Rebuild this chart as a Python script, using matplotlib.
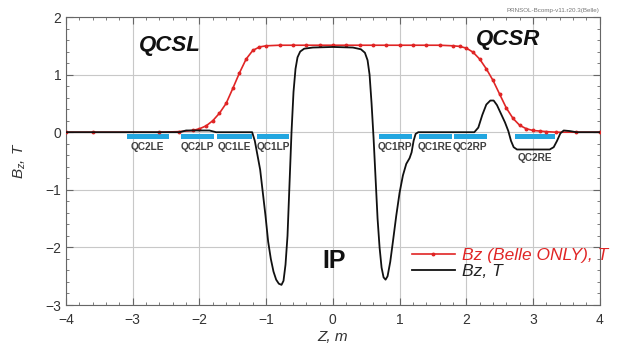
import matplotlib
matplotlib.use("Agg")
import matplotlib.pyplot as plt
from matplotlib.lines import Line2D
from matplotlib.ticker import MultipleLocator

plt.rcParams["font.family"] = ["Liberation Sans", "DejaVu Sans"]
plt.rcParams["mathtext.fontset"] = "custom"
plt.rcParams["mathtext.rm"] = "Liberation Sans"
plt.rcParams["mathtext.it"] = "Liberation Sans:italic"

# Bz, T (total field)
z_total = [-4.0, -2.3, -2.2, -1.85, -1.75, -1.21, -1.17, -1.13, -1.09, -1.05,
           -1.01, -0.97, -0.93, -0.89, -0.85, -0.81, -0.77, -0.74, -0.71, -0.68,
           -0.65, -0.62, -0.59, -0.56, -0.53, -0.49, -0.43, -0.3, 0.0, 0.3,
           0.42, 0.48, 0.52, 0.55, 0.58, 0.61, 0.64, 0.67, 0.70, 0.73,
           0.76, 0.79, 0.82, 0.86, 0.90, 0.95, 1.00, 1.05, 1.10, 1.15,
           1.18, 1.21, 1.24, 1.28, 2.12, 2.18, 2.24, 2.30, 2.36, 2.41,
           2.46, 2.52, 2.58, 2.63, 2.67, 2.71, 2.76, 3.25, 3.31, 3.36,
           3.41, 3.46, 3.55, 3.65, 4.0]
bz_total = [0.0, 0.0, 0.03, 0.03, 0.0, 0.0, -0.15, -0.4, -0.65, -1.05,
            -1.45, -1.9, -2.2, -2.42, -2.56, -2.63, -2.65, -2.58, -2.3, -1.8,
            -0.9, 0.0, 0.7, 1.1, 1.3, 1.40, 1.45, 1.47, 1.48, 1.47,
            1.44, 1.38, 1.25, 1.0, 0.5, -0.1, -0.8, -1.5, -2.0, -2.35,
            -2.52, -2.56, -2.5, -2.25, -1.9, -1.45, -1.05, -0.75, -0.55, -0.45,
            -0.35, -0.15, -0.03, 0.0, 0.0, 0.08, 0.3, 0.48, 0.55, 0.55,
            0.47, 0.32, 0.17, 0.02, -0.15, -0.26, -0.3, -0.3, -0.26, -0.15,
            -0.02, 0.03, 0.02, 0.0, 0.0]

# Bz (Belle ONLY), T
z_belle = [-4.0, -3.6, -2.6, -2.3, -2.1, -2.0, -1.9, -1.8, -1.7, -1.6,
           -1.5, -1.4, -1.3, -1.2, -1.1, -1.0, -0.8, -0.6, -0.4, -0.2,
           0.0, 0.2, 0.4, 0.6, 0.8, 1.0, 1.2, 1.4, 1.6, 1.8,
           1.9, 2.0, 2.1, 2.2, 2.3, 2.4, 2.5, 2.6, 2.7, 2.8,
           2.9, 3.0, 3.1, 3.2, 3.35, 3.65, 4.0]
bz_belle = [0.0, 0.0, 0.0, 0.01, 0.03, 0.06, 0.11, 0.2, 0.33, 0.5,
            0.76, 1.03, 1.27, 1.42, 1.48, 1.50, 1.51, 1.51, 1.51, 1.51,
            1.51, 1.51, 1.51, 1.51, 1.51, 1.51, 1.51, 1.51, 1.51, 1.50,
            1.49, 1.46, 1.39, 1.27, 1.10, 0.9, 0.66, 0.42, 0.24, 0.12,
            0.06, 0.03, 0.02, 0.01, 0.0, 0.0, 0.0]

# magnet positions
magnet_names = ["QC2LE", "QC2LP", "QC1LE", "QC1LP", "QC1RP", "QC1RE", "QC2RP", "QC2RE"]
magnet_start = [-3.09, -2.28, -1.74, -1.14, 0.69, 1.29, 1.81, 2.73]
magnet_end = [-2.46, -1.78, -1.21, -0.66, 1.18, 1.78, 2.31, 3.33]

fig = plt.figure(figsize=(6.17, 3.47), dpi=100)
ax = fig.add_axes([0.107, 0.121, 0.865, 0.830])

ax.grid(True, which="major", color="#c8c8c8", linewidth=0.8)
ax.set_axisbelow(True)

widths = [e - s for s, e in zip(magnet_start, magnet_end)]
ax.barh([-0.08] * len(widths), widths, left=magnet_start, height=0.09,
        color="#22a6e0", zorder=2)
for name, s, e in zip(magnet_names, magnet_start, magnet_end):
    y = -0.44 if name == "QC2RE" else -0.25
    ax.text((s + e) / 2, y, name, ha="center", va="center", fontsize=7.3,
            fontweight="bold", color="#404040", zorder=4)

ax.plot(z_belle, bz_belle, color="#e02525", linewidth=1.2, marker="o",
        markersize=1.8, zorder=3)
ax.plot(z_total, bz_total, color="#111111", linewidth=1.3, zorder=3)

ax.text(-2.44, 1.50, "QCSL", fontsize=16, fontweight="bold", fontstyle="italic",
        ha="center", va="center", color="#111111")
ax.text(2.62, 1.61, "QCSR", fontsize=16, fontweight="bold", fontstyle="italic",
        ha="center", va="center", color="#111111")
ax.text(0.02, -2.24, "IP", fontsize=18, fontweight="bold", ha="center",
        va="center", color="#111111")

ax.set_xlim(-4, 4)
ax.set_ylim(-3, 2)
ax.xaxis.set_major_locator(MultipleLocator(1))
ax.xaxis.set_minor_locator(MultipleLocator(0.2))
ax.yaxis.set_major_locator(MultipleLocator(1))
ax.yaxis.set_minor_locator(MultipleLocator(0.2))
ax.tick_params(which="both", direction="in", top=True, right=True,
               color="#666666", labelcolor="#333333", labelsize=10)
ax.tick_params(which="major", length=5)
ax.tick_params(which="minor", length=2.5)
ax.tick_params(axis="x", pad=6)
for sp in ax.spines.values():
    sp.set_color("#666666")

ax.set_xlabel("Z, m", fontsize=11, fontstyle="italic", color="#333333", labelpad=2)
ax.set_ylabel("$B_z$, T", fontsize=11, fontstyle="italic", color="#333333", labelpad=12)

handles = [
    Line2D([], [], color="#e02525", linewidth=1.2, marker="o", markersize=1.8),
    Line2D([], [], color="#111111", linewidth=1.3),
]
leg = ax.legend(handles, ["Bz (Belle ONLY), T", "Bz, T"], loc="center right",
                bbox_to_anchor=(1.045, 0.143), frameon=False,
                prop={"style": "italic", "size": 12.5},
                labelcolor=["#e02525", "#222222"],
                handlelength=2.5, handletextpad=0.4, labelspacing=0.05)
leg.set_zorder(10)

fig.text(0.972, 0.962, "PRNSOL-Bcomp-v11.r20.3(Belle)", fontsize=4.5,
         color="#777777", ha="right", va="bottom")

fig.savefig("out.png", dpi=100)
